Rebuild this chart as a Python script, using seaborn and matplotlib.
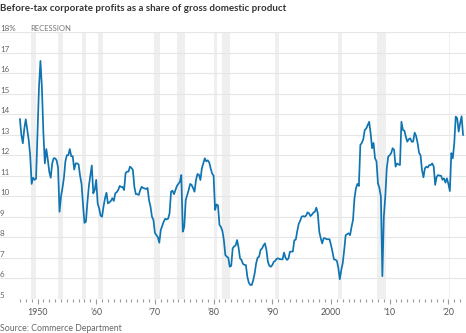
import numpy as np
import pandas as pd
import matplotlib
matplotlib.use("Agg")
import matplotlib.pyplot as plt
import matplotlib.transforms as mtransforms
import seaborn as sns

# ---------------- data (quarterly, % of GDP) ----------------
start_year = 1947
profit_share = [
    13.77, 12.99, 12.58, 13.30,   # 1947
    13.75, 13.25, 12.75, 12.00,   # 1948
    10.60, 10.90, 10.80, 10.85,   # 1949
    13.00, 15.30, 16.60, 15.30,   # 1950
    13.10, 11.60, 12.30, 11.80,   # 1951
    11.20, 10.90, 11.60, 11.85,   # 1952
    11.85, 11.75, 11.40, 9.24,    # 1953
    9.98, 10.40, 10.90, 11.70,    # 1954
    12.00, 12.00, 12.30, 11.95,   # 1955
    11.95, 11.30, 11.60, 11.60,   # 1956
    11.55, 11.00, 10.60, 9.60,    # 1957
    8.70, 8.76, 9.70, 10.50,      # 1958
    11.00, 11.50, 10.14, 10.30,   # 1959
    10.80, 9.65, 9.40, 9.05,      # 1960
    9.00, 9.50, 9.90, 10.17,      # 1961
    9.65, 9.70, 9.77, 9.90,       # 1962
    9.77, 10.14, 10.20, 10.30,    # 1963
    10.50, 10.45, 10.45, 10.30,   # 1964
    11.12, 11.20, 11.20, 11.44,   # 1965
    11.38, 11.28, 10.46, 10.10,   # 1966
    10.10, 10.06, 10.30, 10.46,   # 1967
    10.40, 10.38, 10.35, 10.40,   # 1968
    9.80, 9.50, 9.00, 8.84,       # 1969
    8.22, 8.10, 8.00, 7.73,       # 1970
    8.35, 8.55, 8.76, 8.90,       # 1971
    8.87, 8.90, 9.17, 10.22,      # 1972
    10.27, 10.10, 10.30, 10.50,   # 1973
    10.60, 10.70, 11.03, 8.27,    # 1974
    8.50, 9.81, 10.06, 10.30,     # 1975
    10.60, 10.55, 10.40, 10.22,   # 1976
    10.79, 11.08, 11.05, 10.79,   # 1977
    11.36, 11.60, 11.85, 11.70,   # 1978
    11.75, 11.65, 11.36, 11.10,   # 1979
    11.00, 9.33, 9.60, 9.55,      # 1980
    8.60, 8.50, 8.30, 7.86,       # 1981
    7.13, 7.05, 7.00, 6.56,       # 1982
    6.60, 7.46, 7.55, 7.60,       # 1983
    7.86, 7.50, 6.97, 6.89,       # 1984
    6.70, 6.65, 6.64, 6.07,       # 1985
    5.78, 5.67, 5.67, 5.90,       # 1986
    6.24, 6.73, 7.00, 7.05,       # 1987
    7.38, 7.45, 7.60, 7.70,       # 1988
    7.38, 6.80, 6.60, 6.56,       # 1989
    6.64, 6.80, 6.85, 6.95,       # 1990
    6.97, 6.93, 6.92, 6.92,       # 1991
    7.25, 7.00, 6.89, 6.96,       # 1992
    7.29, 7.30, 7.30, 7.85,       # 1993
    7.88, 8.30, 8.65, 8.80,       # 1994
    9.00, 9.03, 9.00, 9.05,       # 1995
    9.21, 9.17, 9.03, 9.10,       # 1996
    9.20, 9.24, 9.44, 9.17,       # 1997
    8.27, 7.95, 7.70, 7.95,       # 1998
    7.95, 7.90, 7.90, 7.90,       # 1999
    7.62, 7.29, 6.92, 6.90,       # 2000
    6.85, 6.50, 5.95, 6.40,       # 2001
    6.73, 7.38, 8.10, 8.15,       # 2002
    8.19, 8.10, 8.50, 8.84,       # 2003
    9.90, 10.38, 10.60, 10.50,    # 2004
    12.50, 12.60, 12.78, 13.23,   # 2005
    13.30, 13.47, 13.63, 13.07,   # 2006
    12.34, 12.60, 11.85, 11.70,   # 2007
    10.63, 10.40, 9.98, 6.10,     # 2008
    9.00, 9.98, 11.36, 11.93,     # 2009
    12.00, 12.10, 12.34, 12.26,   # 2010
    11.44, 11.60, 11.55, 11.52,   # 2011
    13.63, 13.23, 13.20, 12.90,   # 2012
    12.66, 12.78, 12.82, 12.66,   # 2013
    12.66, 13.10, 12.94, 12.60,   # 2014
    12.12, 12.00, 11.28, 10.92,   # 2015
    11.36, 11.44, 11.40, 11.52,   # 2016
    11.52, 11.60, 11.44, 10.55,   # 2017
    10.95, 11.03, 11.00, 11.00,   # 2018
    10.80, 10.87, 10.66, 10.87,   # 2019
    10.60, 10.25, 12.10, 11.85,   # 2020
    12.58, 13.88, 13.80, 13.15,   # 2021
    13.56, 13.90, 12.98,          # 2022
]

recession_starts = [1948.83, 1953.50, 1957.58, 1960.25, 1969.92, 1973.83,
                    1980.00, 1981.50, 1990.50, 2001.17, 2007.92, 2020.08]
recession_ends = [1949.75, 1954.33, 1958.33, 1961.08, 1970.83, 1975.17,
                  1980.50, 1982.83, 1991.17, 2001.83, 2009.42, 2020.25]

y_ticks = [5, 6, 7, 8, 9, 10, 11, 12, 13, 14, 15, 16, 17, 18]
y_tick_labels = ["5", "6", "7", "8", "9", "10", "11", "12", "13", "14",
                 "15", "16", "17", "18%"]
x_ticks = [1950, 1960, 1970, 1980, 1990, 2000, 2010, 2020]
x_tick_labels = ["1950", "\u201960", "\u201970", "\u201980", "\u201990",
                 "2000", "\u201910", "\u201920"]
minor_years = list(range(1947, 2023))

title = "Before-tax corporate profits as a share of gross domestic product"
source = "Source: Commerce Department"

# ---------------- figure ----------------
sns.set_theme(style="white")
plt.rcParams["font.family"] = ["Lato", "DejaVu Sans"]

W, H = 466, 333
fig = plt.figure(figsize=(W / 100, H / 100), dpi=100)
ax = fig.add_axes([0.0, (H - 298.7) / H, 1.0, (298.7 - 32.2) / H])

quarters = start_year + np.arange(len(profit_share)) / 4.0
df = pd.DataFrame({"year": quarters, "share": profit_share})

for a, b in zip(recession_starts, recession_ends):
    ax.axvspan(a, b, color="#efeff0", lw=0, zorder=0)

sns.lineplot(data=df, x="year", y="share", ax=ax, color="#0f74b1",
             linewidth=1.25, zorder=3)

ax.set_xlim(1943.61, 2023.0)
ax.set_ylim(5, 18)
for s in ax.spines.values():
    s.set_visible(False)

ax.set_yticks(y_ticks)
ax.yaxis.grid(True, color="#e6e6e6", linewidth=0.8, zorder=1)
ax.xaxis.grid(False)
ax.tick_params(axis="y", length=0, labelleft=False)
ax.set_axisbelow(True)

ax.set_xticks(x_ticks)
ax.set_xticklabels(x_tick_labels)
ax.set_xticks(minor_years, minor=True)
ax.tick_params(axis="x", which="major", length=3.5, width=0.8, color="#9a9a9a",
               labelsize=6.3, labelcolor="#555555", pad=3, bottom=True)
ax.tick_params(axis="x", which="minor", length=1.8, width=0.8, color="#9a9a9a",
               bottom=True)
ax.set_xlabel("")
ax.set_ylabel("")

trans = mtransforms.blended_transform_factory(ax.transAxes, ax.transData)
for v, lab in zip(y_ticks, y_tick_labels):
    ax.text(0.0, v, lab, transform=trans, ha="left", va="bottom",
            fontsize=5.8, color="#666666")
ax.text(30 / W, 18, "RECESSION", transform=trans, ha="left", va="bottom",
        fontsize=5.5, color="#777777")

fig.text(0.0, 1 - 8.5 / H, title, ha="left", va="center", fontsize=7.0,
         fontweight="bold", color="#333333")
fig.text(0.0, 1 - 328.5 / H, source, ha="left", va="center", fontsize=6.3,
         color="#666666")

fig.savefig("out.png", dpi=100)
